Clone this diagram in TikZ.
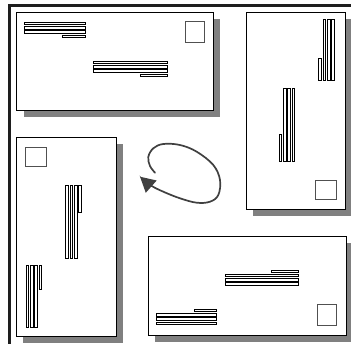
\documentclass[tikz,border=0pt]{standalone}
\usetikzlibrary{arrows.meta}
\definecolor{shadowgray}{HTML}{808080}
\definecolor{framegray}{HTML}{1E1E1E}
\definecolor{arrowgray}{HTML}{404040}
\definecolor{stampgray}{HTML}{505050}
\tikzset{
  envbox/.style={draw=black, fill=white, line width=0.8pt},
  envshadow/.style={fill=shadowgray, draw=none},
  bar/.style={draw=black, fill=white, line width=0.45pt},
  stampbox/.style={draw=stampgray, fill=white, line width=0.8pt},
  framerule/.style={draw=framegray, line width=2.8pt},
  loop/.style={draw=arrowgray, line width=1.7pt, line cap=round,
    -{Triangle[length=15pt,width=16pt]}, fill=none}
}
% horizontal bar: x1, x2, top y
\newcommand{\hbarr}[3]{\path[bar] (#1,#3) rectangle (#2,#3+2.6);}
% vertical bar: left x, y1, y2
\newcommand{\vbarr}[3]{\path[bar] (#1,#2) rectangle (#1+2.6,#3);}
\begin{document}
\begin{tikzpicture}[x=1pt,y=-1pt]
\useasboundingbox (0,0) rectangle (351,343);
\fill[white] (0,0) rectangle (351,343);
% outer frame
\draw[framerule] (9.5,360) -- (9.5,5.7) -- (360,5.7);

% ---------- envelope 1 (top left, horizontal)
\path[envshadow] (23.7,19.3) rectangle (220,117);
\path[envbox] (16.7,12.3) rectangle (213,110);
\path[stampbox] (185,21) rectangle (204,42);
\hbarr{24}{85}{22}\hbarr{24}{85}{26.3}\hbarr{24}{85}{30.6}\hbarr{62}{85}{34.9}
\hbarr{93}{167}{61}\hbarr{93}{167}{65.3}\hbarr{93}{167}{69.6}\hbarr{140}{167}{73.9}

% ---------- envelope 2 (top right, vertical)
\path[envshadow] (253,19) rectangle (352,216);
\path[envbox] (246,12) rectangle (345,209);
\path[stampbox] (315,180) rectangle (336,199);
\vbarr{323}{19}{80.7}\vbarr{327.3}{19}{80.7}\vbarr{331.6}{19}{80.7}\vbarr{318.7}{58}{80.7}
\vbarr{283.3}{88.3}{161.7}\vbarr{287.6}{88.3}{161.7}\vbarr{291.9}{88.3}{161.7}\vbarr{279}{134.3}{161.7}

% ---------- envelope 3 (bottom left, vertical)
\path[envshadow] (23,144) rectangle (123,343);
\path[envbox] (16,137) rectangle (116,336);
\path[stampbox] (25,147) rectangle (46.5,166.5);
\vbarr{65.7}{185}{258.3}\vbarr{70}{185}{258.3}\vbarr{74.3}{185}{258.3}\vbarr{78.6}{185}{212.3}
\vbarr{26}{265.7}{327.5}\vbarr{30.3}{265.7}{327.5}\vbarr{34.6}{265.7}{327.5}\vbarr{38.9}{265.7}{289.3}

% ---------- envelope 4 (bottom right, horizontal)
\path[envshadow] (155.3,243) rectangle (353,342);
\path[envbox] (148.3,236) rectangle (346,335);
\path[stampbox] (317.3,304.3) rectangle (336,325.7);
\hbarr{271.7}{298.7}{269.8}\hbarr{225.3}{298.7}{274.1}\hbarr{225.3}{298.7}{278.4}\hbarr{225.3}{298.7}{282.7}
\hbarr{194.3}{216.7}{309}\hbarr{156}{216.7}{313.3}\hbarr{156}{216.7}{317.6}\hbarr{156}{216.7}{321.9}

% ---------- rotation arrow
\draw[loop] plot[smooth, tension=0.6] coordinates {
  (155,172.7) (150,166) (148.3,157) (153.3,148.3) (163.3,144) (180,145)
  (196.7,151.7) (213.3,165) (220,180) (218.3,195) (210,201.7) (196.7,202.7)
  (180,198.3) (163.3,191.7) (151,185.5) (140,176.7)};
\end{tikzpicture}
\end{document}
